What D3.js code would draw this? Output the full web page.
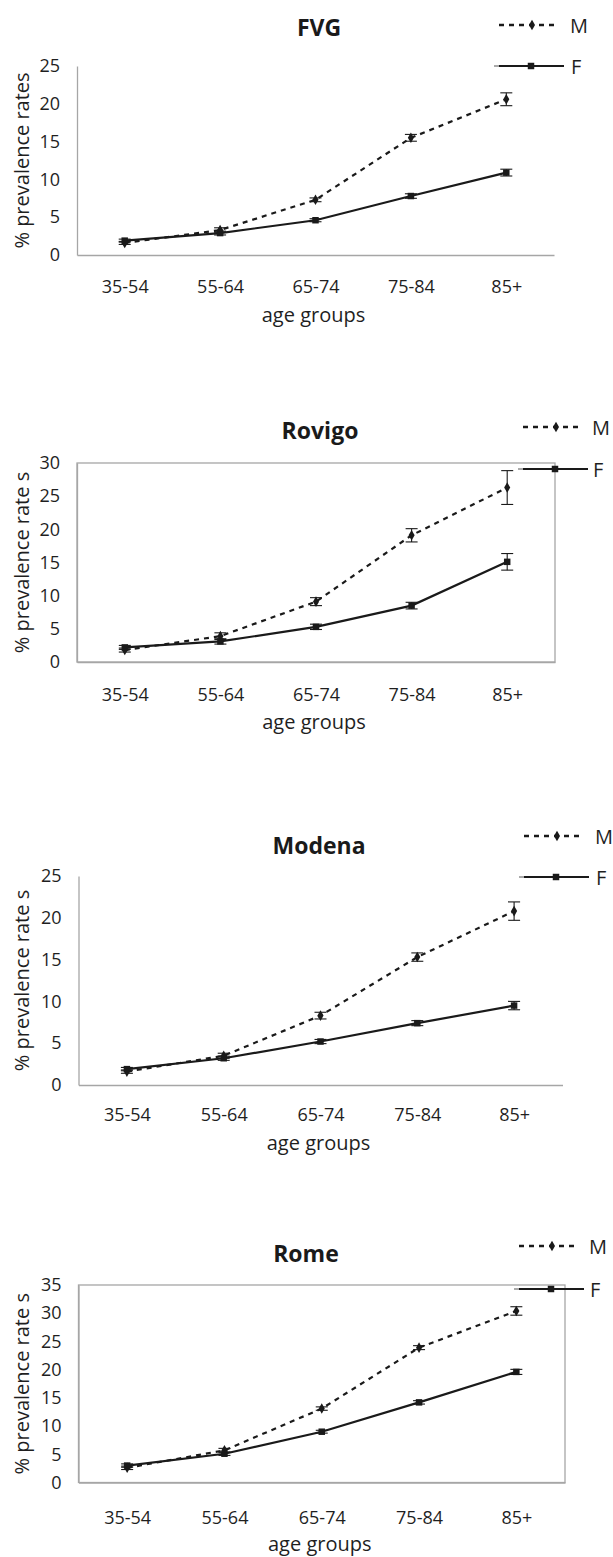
<!DOCTYPE html>
<html>
<head>
<meta charset="UTF-8">
<title>Prevalence rates by age group</title>
<script src="https://d3js.org/d3.v7.min.js"></script>
<style>
  html, body { margin: 0; padding: 0; background: #fff; }
  svg { display: block; font-family: 'Open Sans', sans-serif; }
  .tick text { fill: #1f1f1f; font-size: 18px; }
  .domain { stroke: #a6a6a6; stroke-width: 1.3px; }
</style>
</head>
<body>
<svg id="chart" width="613" height="1557"></svg>
<script>
// --- data ---
const ageGroups = ["35-54", "55-64", "65-74", "75-84", "85+"];
const seriesNames = ["M", "F"];

const fvgM    = [1.6, 3.3, 7.3, 15.5, 20.6];
const fvgMErr = [0.2, 0.3, 0.25, 0.45, 0.85];
const fvgF    = [1.9, 2.9, 4.6, 7.8, 10.9];
const fvgFErr = [0.2, 0.25, 0.2, 0.3, 0.45];

const rovigoM    = [1.8, 3.9, 9.1, 19.1, 26.3];
const rovigoMErr = [0.3, 0.5, 0.6, 1.0, 2.55];
const rovigoF    = [2.2, 3.1, 5.3, 8.5, 15.1];
const rovigoFErr = [0.3, 0.4, 0.4, 0.5, 1.25];

const modenaM    = [1.6, 3.5, 8.3, 15.3, 20.8];
const modenaMErr = [0.2, 0.3, 0.4, 0.5, 1.1];
const modenaF    = [1.9, 3.2, 5.2, 7.4, 9.5];
const modenaFErr = [0.2, 0.25, 0.25, 0.3, 0.5];

const romeM    = [2.6, 5.7, 13.1, 23.9, 30.4];
const romeMErr = [0.3, 0.35, 0.3, 0.35, 0.75];
const romeF    = [3.0, 5.1, 9.0, 14.2, 19.6];
const romeFErr = [0.3, 0.3, 0.25, 0.3, 0.45];

const ticks25 = [0, 5, 10, 15, 20, 25];
const ticks30 = [0, 5, 10, 15, 20, 25, 30];
const ticks35 = [0, 5, 10, 15, 20, 25, 30, 35];

const panels = [
  { title: "FVG",    yLabel: "% prevalence rates",  m: fvgM,    mErr: fvgMErr,    f: fvgF,    fErr: fvgFErr,    ticks: ticks25 },
  { title: "Rovigo", yLabel: "% prevalence rate s", m: rovigoM, mErr: rovigoMErr, f: rovigoF, fErr: rovigoFErr, ticks: ticks30 },
  { title: "Modena", yLabel: "% prevalence rate s", m: modenaM, mErr: modenaMErr, f: modenaF, fErr: modenaFErr, ticks: ticks25 },
  { title: "Rome",   yLabel: "% prevalence rate s", m: romeM,   mErr: romeMErr,   f: romeF,   fErr: romeFErr,   ticks: ticks35 }
];

// --- layout of each panel (pixels) ---
const layout = [
  { x0: 77,   x1: 554,   top: 66,   bottom: 255,    box: false, titleX: 319, titleY: 27,   tickY: 287,  xTitleY: 314,  legX: 499, legText: 570, legMY: 25,   legFY: 66 },
  { x0: 77,   x1: 555,   top: 463,  bottom: 662,    box: true,  titleX: 320, titleY: 430,  tickY: 695,  xTitleY: 721,  legX: 523, legText: 592, legMY: 427,  legFY: 469 },
  { x0: 78.5, x1: 562.5, top: 876,  bottom: 1085,   box: false, titleX: 319, titleY: 845,  tickY: 1115, xTitleY: 1142, legX: 524, legText: 595, legMY: 836,  legFY: 877 },
  { x0: 78.5, x1: 565,   top: 1285, bottom: 1482.5, box: true,  titleX: 306, titleY: 1253, tickY: 1518, xTitleY: 1543, legX: 519, legText: 589, legMY: 1246, legFY: 1289 }
];

const ink = "#1a1a1a";
const svg = d3.select("#chart");

const diamond = d3.symbol().type(d3.symbolDiamond).size(32);
const square = d3.symbol().type(d3.symbolSquare).size(42);

panels.forEach((p, i) => {
  const L = layout[i];
  const g = svg.append("g");
  const x = d3.scalePoint().domain(ageGroups).range([L.x0, L.x1]).padding(0.5);
  const yMax = p.ticks[p.ticks.length - 1];
  const y = d3.scaleLinear().domain([0, yMax]).range([L.bottom, L.top]);

  if (L.box) {
    g.append("rect")
      .attr("x", L.x0).attr("y", L.top)
      .attr("width", L.x1 - L.x0).attr("height", L.bottom - L.top)
      .attr("fill", "none").attr("stroke", "#a6a6a6").attr("stroke-width", 1.3);
  }

  // axes
  g.append("g")
    .attr("transform", `translate(${L.x0},0)`)
    .call(d3.axisLeft(y).tickValues(p.ticks).tickSize(0).tickSizeOuter(0).tickPadding(17))
    .call(a => a.selectAll(".tick text").attr("font-family", "'Open Sans', sans-serif"));

  g.append("g")
    .attr("transform", `translate(0,${L.bottom})`)
    .call(d3.axisBottom(x).tickSize(0).tickSizeOuter(0).tickPadding(L.tickY - L.bottom - 6.4))
    .call(a => a.selectAll(".tick text").attr("font-family", "'Open Sans', sans-serif"));

  // titles
  g.append("text")
    .attr("x", L.titleX).attr("y", L.titleY)
    .attr("text-anchor", "middle").attr("dominant-baseline", "central")
    .attr("font-size", 23).attr("font-weight", "bold").attr("fill", ink)
    .text(p.title);

  g.append("text")
    .attr("x", (L.x0 + L.x1) / 2 - 2).attr("y", L.xTitleY)
    .attr("text-anchor", "middle").attr("dominant-baseline", "central")
    .attr("font-size", 20).attr("fill", "#1f1f1f")
    .text("age groups");

  g.append("text")
    .attr("transform", `translate(29,${(L.top + L.bottom) / 2}) rotate(-90)`)
    .attr("text-anchor", "middle")
    .attr("font-size", 20).attr("fill", "#1f1f1f")
    .text(p.yLabel);

  // series
  const series = [
    { name: seriesNames[0], vals: p.m, errs: p.mErr, dash: "5,5", sym: diamond },
    { name: seriesNames[1], vals: p.f, errs: p.fErr, dash: null, sym: square }
  ];

  const line = d3.line().x((d, j) => x(ageGroups[j])).y(d => y(d));

  series.forEach(s => {
    const sg = g.append("g");
    sg.append("path")
      .datum(s.vals)
      .attr("d", line)
      .attr("fill", "none").attr("stroke", ink)
      .attr("stroke-width", 2.2)
      .attr("stroke-dasharray", s.dash);

    const eb = sg.selectAll(".err").data(s.vals).enter().append("g");
    eb.append("line")
      .attr("x1", (d, j) => x(ageGroups[j])).attr("x2", (d, j) => x(ageGroups[j]))
      .attr("y1", (d, j) => y(d + s.errs[j])).attr("y2", (d, j) => y(d - s.errs[j]))
      .attr("stroke", ink).attr("stroke-width", 1.1);
    [1, -1].forEach(sign => {
      eb.append("line")
        .attr("x1", (d, j) => x(ageGroups[j]) - 6).attr("x2", (d, j) => x(ageGroups[j]) + 6)
        .attr("y1", (d, j) => y(d + sign * s.errs[j])).attr("y2", (d, j) => y(d + sign * s.errs[j]))
        .attr("stroke", ink).attr("stroke-width", 1.1);
    });

    sg.selectAll(".pt").data(s.vals).enter().append("path")
      .attr("d", s.sym)
      .attr("transform", (d, j) => `translate(${x(ageGroups[j])},${y(d)})`)
      .attr("fill", ink);
  });

  // legend
  const lg = g.append("g");
  const legW = 60;
  lg.append("line")
    .attr("x1", L.legX).attr("x2", L.legX + legW)
    .attr("y1", L.legMY).attr("y2", L.legMY)
    .attr("stroke", ink).attr("stroke-width", 2.6).attr("stroke-dasharray", "5,5");
  lg.append("path").attr("d", diamond)
    .attr("transform", `translate(${L.legX + legW / 2 + 3},${L.legMY})`).attr("fill", ink);
  lg.append("text")
    .attr("x", L.legText).attr("y", L.legMY)
    .attr("dominant-baseline", "central").attr("font-size", 20).attr("fill", "#1f1f1f")
    .text(seriesNames[0]);

  lg.append("line")
    .attr("x1", L.legX - 5).attr("x2", L.legX)
    .attr("y1", L.legFY).attr("y2", L.legFY)
    .attr("stroke", "#555").attr("stroke-width", 1);
  lg.append("line")
    .attr("x1", L.legX).attr("x2", L.legX + legW + 5)
    .attr("y1", L.legFY).attr("y2", L.legFY)
    .attr("stroke", ink).attr("stroke-width", 2.2);
  lg.append("path").attr("d", square)
    .attr("transform", `translate(${L.legX + legW / 2 + 2},${L.legFY})`).attr("fill", ink);
  lg.append("text")
    .attr("x", L.legText + 1).attr("y", L.legFY)
    .attr("dominant-baseline", "central").attr("font-size", 20).attr("fill", "#1f1f1f")
    .text(seriesNames[1]);
});
</script>
</body>
</html>
